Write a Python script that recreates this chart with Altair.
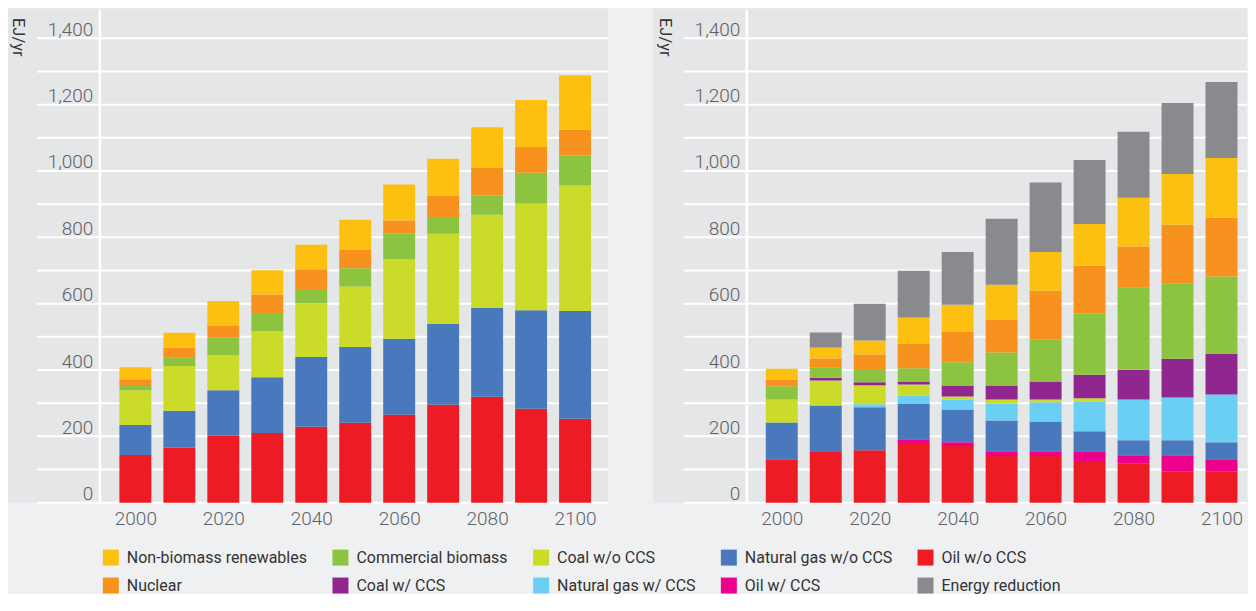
import altair as alt
import pandas as pd

# ---------------- data ----------------
years = [2000, 2010, 2020, 2030, 2040, 2050, 2060, 2070, 2080, 2090, 2100]

# stacking order, bottom -> top
stack_order = [
    "Oil w/o CCS", "Oil w/ CCS", "Natural gas w/o CCS", "Natural gas w/ CCS",
    "Coal w/o CCS", "Coal w/ CCS", "Commercial biomass", "Nuclear",
    "Non-biomass renewables", "Energy reduction",
]

# legend order (row by row)
legend_order = [
    "Non-biomass renewables", "Commercial biomass", "Coal w/o CCS", "Natural gas w/o CCS", "Oil w/o CCS",
    "Nuclear", "Coal w/ CCS", "Natural gas w/ CCS", "Oil w/ CCS", "Energy reduction",
]
legend_colors = [
    "#fdc010", "#8cc43f", "#cadb2a", "#4a78bc", "#ed1c24",
    "#f7921e", "#90278e", "#6bcff4", "#ec008c", "#898a8d",
]

# left panel (EJ/yr)
left_oil = [144, 166, 202, 210, 229, 241, 265, 295, 319, 283, 253]
left_gas = [90, 111, 137, 168, 210, 228, 229, 244, 268, 297, 325]
left_coal = [105, 135, 106, 139, 162, 183, 241, 272, 281, 321, 378]
left_biomass = [13, 25, 52, 52, 43, 55, 76, 50, 58, 94, 91]
left_nuclear = [20, 30, 36, 59, 60, 56, 40, 65, 83, 77, 77]
left_renew = [36, 45, 75, 73, 74, 90, 108, 111, 123, 142, 165]

# right panel (EJ/yr)
right_oil = [131, 153, 158, 177, 171, 141, 141, 123, 117, 95, 93]
right_oil_ccs = [0, 0, 0, 14, 11, 14, 14, 32, 26, 48, 38]
right_gas = [111, 140, 130, 108, 99, 93, 90, 60, 45, 45, 51]
right_gas_ccs = [0, 0, 9, 24, 30, 51, 58, 90, 123, 129, 144]
right_coal = [69, 75, 57, 33, 9, 12, 8, 10, 0, 0, 0]
right_coal_ccs = [0, 9, 9, 9, 33, 42, 54, 71, 90, 117, 123]
right_biomass = [40, 30, 40, 40, 70, 100, 126, 184, 247, 226, 233]
right_nuclear = [20, 28, 44, 75, 93, 99, 148, 144, 124, 178, 177]
right_renew = [33, 33, 42, 78, 81, 105, 117, 126, 147, 153, 180]
right_reduction = [0, 45, 111, 141, 159, 199, 209, 193, 199, 214, 229]

grid_values = [0, 100, 200, 300, 400, 500, 600, 700, 800, 900, 1000, 1100, 1200, 1300, 1400]
y_label_values = [0, 200, 400, 600, 800, 1000, 1200, 1400]
x_label_values = [2000, 2020, 2040, 2060, 2080, 2100]

left_series = {
    "Oil w/o CCS": left_oil, "Natural gas w/o CCS": left_gas, "Coal w/o CCS": left_coal,
    "Commercial biomass": left_biomass, "Nuclear": left_nuclear, "Non-biomass renewables": left_renew,
}
right_series = {
    "Oil w/o CCS": right_oil, "Oil w/ CCS": right_oil_ccs, "Natural gas w/o CCS": right_gas,
    "Natural gas w/ CCS": right_gas_ccs, "Coal w/o CCS": right_coal, "Coal w/ CCS": right_coal_ccs,
    "Commercial biomass": right_biomass, "Nuclear": right_nuclear,
    "Non-biomass renewables": right_renew, "Energy reduction": right_reduction,
}


def long_df(series):
    rows = []
    for cat, vals in series.items():
        for yr, v in zip(years, vals):
            rows.append({"year": yr, "category": cat, "value": v, "stack": stack_order.index(cat)})
    return pd.DataFrame(rows)


# ---------------- style ----------------
FONT = "Roboto"
PAGE_BG = "#eff0f2"
PANEL_BG = "#e5e6e8"
TICK_COLOR = "#5f6062"
H = 495
Y_TOP = 1490


def y_axis():
    return alt.Axis(
        values=y_label_values, format=",d", grid=False, ticks=False, tickSize=0,
        domain=False, labelFont=FONT, labelFontSize=19, labelFontWeight=300,
        labelColor=TICK_COLOR, labelAlign="right", labelBaseline="alphabetic",
        labelOffset=-3, labelPadding=7, zindex=1,
        title="EJ/yr", titleAngle=90, titleX=-82, titleY=9, titleAlign="left",
        titleBaseline="middle", titleFont=FONT, titleFontSize=16.5,
        titleFontWeight="normal", titleColor="#333333",
    )


def panel(series, W, xdomain, left_ext):
    df = long_df(series)
    one = pd.DataFrame({"a": [0]})
    grid_df = pd.DataFrame({"value": grid_values})
    yscale = alt.Scale(domain=[0, Y_TOP], nice=False, zero=True)

    bg = alt.Chart(one).mark_rect(color=PANEL_BG).encode(
        x=alt.value(-left_ext), x2=alt.value(W), y=alt.value(0), y2=alt.value(H)
    )
    grid = alt.Chart(grid_df).mark_rule(color="white", strokeWidth=2).encode(
        y=alt.Y("value:Q", scale=yscale, axis=y_axis()),
        x=alt.value(-63), x2=alt.value(W),
    )
    vline = alt.Chart(one).mark_rule(color="white", strokeWidth=2.5).encode(
        x=alt.value(0), y=alt.value(1.3), y2=alt.value(H)
    )
    bars = alt.Chart(df).mark_bar(size=32).encode(
        x=alt.X(
            "year:Q",
            scale=alt.Scale(domain=xdomain, nice=False, zero=False, padding=0),
            axis=alt.Axis(
                values=x_label_values, format="d", title=None, grid=False, ticks=False,
                tickSize=0, domain=False, labelFont=FONT, labelFontSize=19,
                labelFontWeight=300, labelColor=TICK_COLOR, labelPadding=7,
                labelFlush=False, zindex=1,
            ),
        ),
        y=alt.Y("value:Q", stack="zero", scale=yscale, axis=y_axis()),
        color=alt.Color(
            "category:N",
            scale=alt.Scale(domain=legend_order, range=legend_colors),
            legend=alt.Legend(
                title=None, orient="none", legendX=3, legendY=542, direction="horizontal",
                columns=5, symbolType="square", symbolSize=256, symbolStrokeWidth=0,
                symbolOpacity=1, labelFont=FONT, labelFontSize=16, labelColor="#333333",
                labelOffset=8, columnPadding=25, rowPadding=12, labelLimit=400, padding=0,
            ),
        ),
        order=alt.Order("stack:Q", sort="ascending"),
    )
    return alt.layer(bg, grid, vline, bars).properties(width=W, height=H)


left = panel(left_series, 509, [1991.92, 2107.5], 92)
right = panel(right_series, 501, [1992.05, 2105.8], 94)

chart = (
    alt.hconcat(left, right, spacing=44)
    .properties(padding=0, background=PAGE_BG)
    .configure_view(strokeWidth=0)
)

chart.save("out.html", embed_options={"renderer": "svg", "actions": False})
